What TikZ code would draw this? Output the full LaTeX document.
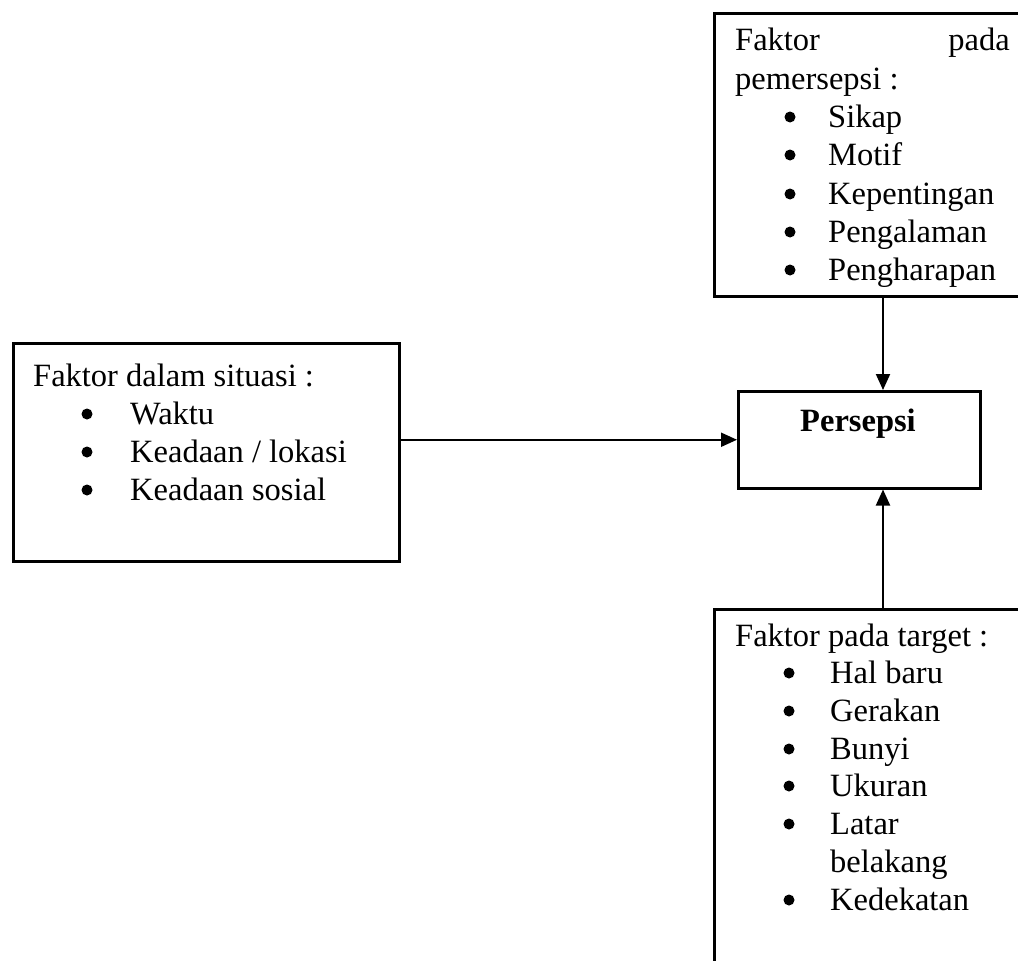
\documentclass[tikz,border=0pt]{standalone}
\usepackage{fontspec}
\setmainfont{Liberation Serif}
\usetikzlibrary{arrows.meta}
\tikzset{
  box/.style={draw, line width=2.5pt, rectangle, inner sep=0pt, anchor=north west},
  txt/.style={anchor=base west, inner sep=0pt, font=\fontsize{32.5}{38}\selectfont},
  bul/.style={circle, fill, draw=none, inner sep=0pt, minimum size=11pt},
  arr/.style={line width=2pt, -{Triangle[length=16pt, width=14pt]}}
}
\begin{document}
\begin{tikzpicture}[x=1pt, y=-1pt]
\useasboundingbox (0,0) rectangle (1018,961);
\clip (0,0) rectangle (1018,961);
% boxes
\node[box, minimum width=330pt, minimum height=283pt] (top) at (713,12) {};
\node[box, minimum width=386pt, minimum height=218pt] (left) at (12,342) {};
\node[box, minimum width=242pt, minimum height=97pt] (pers) at (737,390) {};
\node[box, minimum width=330pt, minimum height=380pt] (bot) at (713,608) {};
\coordinate (ax) at (883,0);
% top box text
\node[txt] (t1) at (735,50) {Faktor};
\node[txt, anchor=base east] (t1b) at (1010,50) {pada};
\node[txt] (t2) at (735,89) {pemersepsi :};
\foreach \y/\s [count=\i] in {127/Sikap,165/Motif,204/Kepentingan,242/Pengalaman,280/Pengharapan}{
  \node[bul] (tb\i) at (790,\y-10) {};
  \node[txt] (ti\i) at (828,\y) {\s};
}
% left box text
\node[txt] (l1) at (33,386) {Faktor dalam situasi :};
\foreach \y/\s [count=\i] in {424/{Waktu},462/{Keadaan / lokasi},500/{Keadaan sosial}}{
  \node[bul] (lb\i) at (87,\y-10) {};
  \node[txt] (li\i) at (130,\y) {\s};
}
% persepsi
\node[anchor=base, inner sep=0pt, font=\fontsize{32.5}{38}\selectfont\bfseries] (ptxt) at (858,431) {Persepsi};
% bottom box text
\node[txt] (b1) at (735,646) {Faktor pada target :};
\foreach \y/\s [count=\i] in {683/{Hal baru},721/{Gerakan},759/{Bunyi},796/{Ukuran},834/{Latar},910/{Kedekatan}}{
  \node[bul] (bb\i) at (789,\y-10) {};
  \node[txt] (bi\i) at (830,\y) {\s};
}
\node[txt] (bi5b) at (830,872) {belakang};
% connectors
\draw[arr] (top.south -| ax) -- (pers.north -| ax);
\draw[arr] (pers.west -| left.east) -- (pers.west);
\draw[arr] (bot.north -| ax) -- (pers.south -| ax);
\end{tikzpicture}
\end{document}
